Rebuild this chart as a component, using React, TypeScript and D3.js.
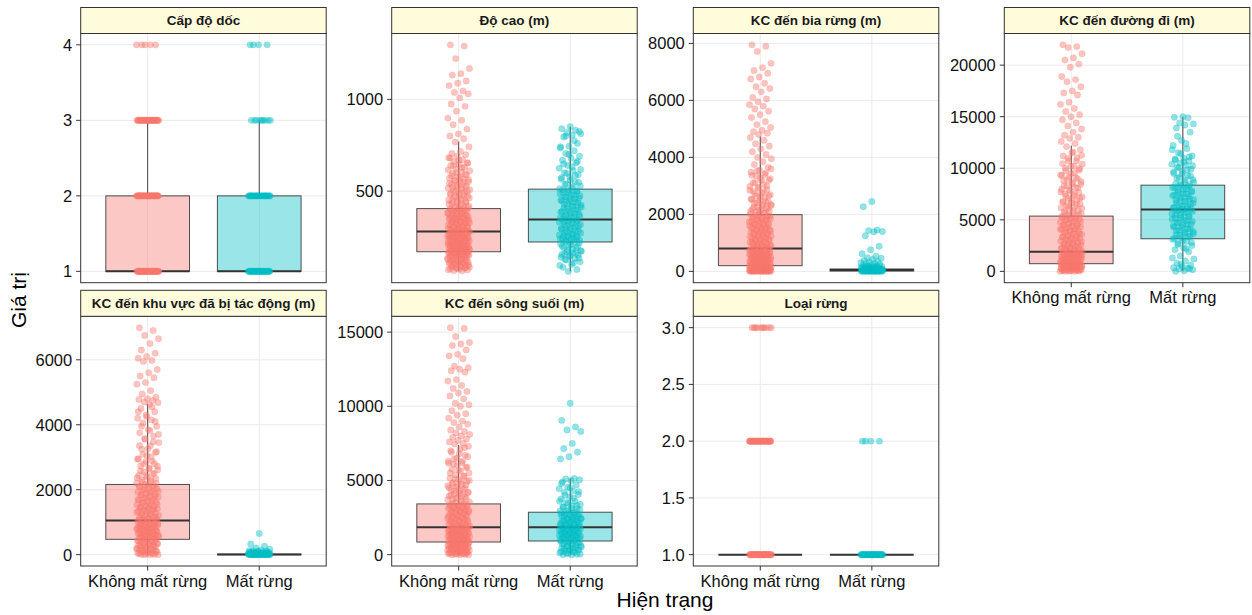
import React from 'react';
import * as d3 from 'd3';

// ---------------- DATA ----------------
const categories = ['Không mất rừng', 'Mất rừng'];
const groupColors = ['#F8766D', '#00BFC4'];

const panelTitles = [
  'Cấp độ dốc',
  'Độ cao (m)',
  'KC đến bia rừng (m)',
  'KC đến đường đi (m)',
  'KC đến khu vực đã bị tác động (m)',
  'KC đến sông suối (m)',
  'Loại rừng',
];

const slopeTicks = [1, 2, 3, 4];
const elevTicks = [500, 1000];
const markerTicks = [0, 2000, 4000, 6000, 8000];
const roadTicks = [0, 5000, 10000, 15000, 20000];
const disturbTicks = [0, 2000, 4000, 6000];
const streamTicks = [0, 5000, 10000, 15000];
const forestTicks = [1.0, 1.5, 2.0, 2.5, 3.0];
const forestTickLabels = ['1.0', '1.5', '2.0', '2.5', '3.0'];

// Discrete variables: [level, number of points]
const slopeLevelsKhong: [number, number][] = [[1, 45], [2, 45], [3, 35], [4, 5]];
const slopeLevelsMat: [number, number][] = [[1, 35], [2, 30], [3, 9], [4, 4]];
const forestLevelsKhong: [number, number][] = [[1, 45], [2, 40], [3, 10]];
const forestLevelsMat: [number, number][] = [[1, 40], [2, 4]];

// Continuous variables: point values
const elevKhong = [
  1297, 1290, 1222, 1168, 1140, 1132, 1100, 1088, 1075, 1046, 1038, 1030, 1008, 975, 962, 935, 898, 886, 862, 838, 812, 800, 785,
  768, 742, 716, 705, 698, 690, 682, 671, 660, 652, 645, 638, 630, 622, 611, 604, 596, 588, 580, 571, 566, 560, 552, 545, 538, 531,
  523, 516, 510, 504, 497, 489, 482, 476, 470, 463, 455, 448, 441, 436, 429, 422, 415, 409,
  402, 398, 393, 387, 381, 376, 372, 366, 361, 355, 350, 344, 340, 335, 331, 326, 320, 317, 311, 306, 302, 297, 293, 288, 284,
  279, 275, 271, 266, 262, 258, 253, 249, 244, 240, 236, 231, 227, 222, 218, 214, 209, 205, 201, 196, 192, 188, 184, 180, 176, 172,
  168, 164, 160, 156, 152, 147, 143, 139, 135, 130, 126, 121, 117, 112, 108, 103, 98, 93, 88, 83, 78, 72, 66,
];
const elevKhongCore = [
  67, 71, 74, 77, 80, 84, 86, 90, 94, 97, 100, 104, 107, 110, 113, 116, 119, 122, 125, 128, 131, 134, 137, 140, 144, 146, 149,
  151, 154, 157, 159, 161, 163, 165, 167, 169, 171, 173, 174, 177, 179, 182, 183, 186, 189, 191, 194, 195, 198, 200, 203, 204,
  207, 210, 212, 213, 216, 219, 221, 224, 225, 228, 230, 233, 234, 237, 239, 242, 243, 246, 248, 251, 252, 255, 257, 260, 261,
  264, 267, 269, 272, 273, 277, 281, 285, 289, 292, 296, 300, 304, 308, 312, 316, 321, 324, 328, 333, 337, 341, 346, 348, 352,
  357, 360, 364, 368, 373, 377, 380, 384, 390, 394, 399, 403, 407, 412, 418, 425, 433, 440, 447, 452, 459, 466, 473, 480, 487,
  494, 501, 507, 514, 520, 527, 535, 542, 549, 556, 563, 575, 584, 593, 601, 615, 627, 640, 655, 668, 680,
];
const elevMat = [
  851, 840, 832, 820, 812, 805, 795, 760, 745, 735, 720, 705, 690, 680, 668, 655, 640, 625, 612, 600, 590, 578, 565, 552, 540, 528, 518,
  508, 500, 494, 486, 478, 470, 462, 455, 448, 440, 432, 424, 416, 408, 400, 392, 385, 378, 370, 363, 356, 350,
  342, 336, 330, 322, 315, 308, 300, 293, 286, 279, 272, 265, 258, 252, 246, 240, 234, 228,
  218, 210, 200, 190, 180, 172, 165, 158, 152, 146, 140, 132, 125, 115, 100, 85, 73, 63,
];
const elevMatCore = [
  95, 110, 128, 136, 148, 155, 162, 170, 176, 184, 192, 198, 205, 214, 221, 226, 232, 238, 243, 249, 255, 261, 268, 275, 283,
  290, 297, 304, 311, 318, 326, 333, 339, 345, 353, 359, 366, 374, 381, 389, 396, 404, 412, 420, 428, 436, 445, 452, 460, 467,
  475, 483, 491, 498, 505, 514, 525, 536, 548, 560, 573, 585, 597, 618, 633, 648, 663, 700, 742, 775, 800, 825,
];
const markerKhong = [
  7950, 7900, 7720, 7300, 7150, 7050, 6950, 6820, 6750, 6600, 6480, 6420, 6300, 6100, 6050, 5950, 5850, 5800, 5700, 5620, 5500,
  5400, 5250, 5150, 5050, 4950, 4900, 4850, 4800,
  4700, 4600, 4480, 4400, 4300, 4200, 4100, 4000, 3950, 3850, 3750, 3650, 3550, 3480, 3400, 3350, 3250, 3200, 3100, 3000, 2950,
  2850, 2800, 2720, 2650, 2600, 2520, 2450, 2400, 2350, 2300, 2250, 2200, 2150, 2100, 2050,
  1980, 1940, 1900, 1860, 1820, 1780, 1740, 1700, 1660, 1620, 1580, 1540, 1500, 1460, 1420, 1380, 1340, 1300, 1260, 1220, 1180,
  1140, 1100, 1060, 1020, 980, 940, 900, 860, 830,
  790, 770, 750, 720, 700, 680, 660, 640, 620, 600, 580, 560, 540, 520, 500, 480, 460, 440, 420, 400, 380, 360, 340, 320, 300,
  280, 260, 240, 220, 205,
  195, 180, 170, 160, 150, 140, 130, 120, 110, 100, 90, 80, 70, 60, 50, 40, 30, 25, 20, 15, 10, 8, 5, 3, 0, 0, 0, 0, 0, 0,
];
const markerKhongCore = [
  0, 0, 0, 5, 10, 12, 18, 22, 28, 35, 42, 48, 55, 62, 70, 78, 85, 92, 100, 108, 115, 125, 135, 145, 155, 165, 175, 185, 198,
  210, 225, 238, 252, 268, 283, 297, 312, 328, 345, 362, 377, 393, 410, 428, 445, 463, 478, 495, 512, 530, 548, 565, 583, 602,
  620, 638, 657, 676, 695, 712, 733, 752, 775, 795, 815, 838, 860, 882, 905, 928, 950, 975, 1000, 1025, 1050, 1078, 1105, 1130,
  1158, 1185, 1212, 1240, 1268, 1295, 1322, 1350, 1377, 1405, 1432, 1460, 1488, 1515, 1545, 1572, 1600, 1630, 1660, 1690, 1720,
  1752, 1785, 1815, 1848, 1880, 1912, 1945, 1978, 2010, 2045, 2080, 2115, 2150, 2190, 2230, 2270, 2310, 2355, 2400, 2445, 2490,
  2540, 2590, 2640, 2690, 2745, 2800, 2860, 2920, 2980, 3050, 3120, 3200, 3280, 3370, 3450, 3520, 3600,
];
const markerMat = [
  2450, 2270, 1450, 1430, 1400, 1390, 1250, 880, 760, 620, 530, 480, 460, 420, 380, 350, 320, 300, 280, 260, 240, 220,
  200, 190, 180, 170, 160, 150, 140, 130, 120, 110, 100, 95, 90, 85, 80, 75, 70, 65, 60, 55, 50, 45, 40, 35, 30, 25, 20, 15, 10,
  5, 0, 0, 0, 0, 0,
];
const markerMatCore = [
  0, 0, 0, 0, 2, 4, 7, 9, 12, 14, 17, 19, 22, 27, 32, 37, 42, 47, 52, 57, 62, 68, 73, 78, 88, 98, 108, 118, 135, 150, 175,
];
const roadKhong = [
  21970, 21800, 21700, 21100, 20700, 20500, 20100, 19800, 18900, 18600, 18400, 17900, 17500, 17300, 17100, 16400, 16200, 15800,
  15500, 15200, 15000, 14700, 14400, 14100, 13800, 13500, 13200, 13000, 12900, 12600, 12400,
  12100, 11800, 11500, 11200, 11000, 10700, 10400, 10200, 10000, 9800, 9500, 9300, 9100, 8900, 8700, 8500, 8300, 8100, 7900,
  7700, 7500, 7300, 7100, 6900, 6700, 6500, 6300, 6100, 5900, 5700, 5500, 5400,
  5300, 5150, 5000, 4850, 4700, 4550, 4400, 4250, 4100, 3950, 3800, 3650, 3500, 3350, 3200, 3050, 2900, 2750, 2600, 2450, 2300,
  2200, 2100, 2000,
  1880, 1830, 1780, 1720, 1660, 1600, 1540, 1480, 1420, 1360, 1300, 1240, 1180, 1120, 1060, 1000, 940, 880, 820, 770,
  730, 690, 650, 610, 570, 530, 490, 450, 410, 370, 330, 290, 250, 210, 170, 130, 90, 50, 20, 0,
];
const roadKhongCore = [
  0, 10, 30, 60, 80, 110, 140, 160, 190, 220, 240, 270, 300, 320, 350, 380, 400, 430, 460, 480, 510, 540, 560, 590, 620, 640,
  670, 700, 720, 750, 790, 840, 890, 930, 970, 1020, 1070, 1110, 1150, 1200, 1260, 1310, 1350, 1400, 1450, 1500, 1560, 1610,
  1650, 1700, 1750, 1800, 1850, 1900, 1950, 2030, 2110, 2180, 2250, 2330, 2400, 2480, 2560, 2630, 2700, 2780, 2860, 2940, 3010,
  3100, 3180, 3260, 3340, 3420, 3510, 3600, 3680, 3770, 3860, 3940, 4030, 4120, 4210, 4300, 4390, 4480, 4580, 4670, 4760, 4860,
  4950, 5050, 5150, 5250, 5360, 5460, 5570, 5680, 5800, 5920, 6040, 6160, 6280, 6400, 6530, 6660, 6790, 6930, 7070, 7210, 7350,
  7500, 7650, 7800, 7960, 8120, 8280, 8450, 8620, 8800, 8980, 9160, 9350, 9550, 9760, 9980, 10200, 10450, 10700, 10960, 11250,
  11550,
];
const roadMat = [
  15000, 14950, 14900, 14400, 14300, 14200, 13900, 13500, 12700, 12200, 11900, 11500, 11200, 11000, 10900, 10700, 10500, 10400,
  10300, 10100, 9900, 9700, 9500, 9300, 9100, 8900, 8700, 8500, 8400,
  8300, 8150, 8000, 7850, 7700, 7550, 7400, 7250, 7100, 6950, 6800, 6650, 6500, 6350, 6200, 6100,
  5950, 5800, 5650, 5500, 5350, 5200, 5050, 4900, 4750, 4600, 4450, 4300, 4150, 4000, 3850, 3700, 3550, 3400, 3250,
  3100, 2900, 2700, 2500, 2300, 2100, 1900, 1500, 1200, 1000, 800, 600, 450, 350, 300, 250, 150, 50, 0,
];
const roadMatCore = [
  250, 700, 1300, 2200, 2600, 2800, 3000, 3200, 3350, 3500, 3650, 3800, 3950, 4100, 4250, 4400, 4550, 4700, 4850, 5000, 5150,
  5300, 5450, 5600, 5750, 5850, 6000, 6050, 6150, 6300, 6450, 6600, 6750, 6900, 7050, 7200, 7350, 7500, 7650, 7800, 7950, 8100,
  8250, 8450, 8650, 8850, 9050, 9250, 9450, 9650, 9850, 10050, 10250, 10600, 10800, 11100, 11400, 11800, 12400, 13100,
];
const disturbKhong = [
  6990, 6900, 6750, 6650, 6500, 6300, 6200, 6100, 6050, 5980, 5950, 5700, 5600, 5500, 5450, 5300, 5250, 5050, 4950, 4850, 4800,
  4780, 4750, 4700, 4680,
  4620, 4500, 4400, 4300, 4200, 4150, 4050, 3950, 3850, 3750, 3650, 3550, 3450, 3350, 3250, 3150, 3050, 2950, 2880, 2800, 2720,
  2650, 2580, 2500, 2430, 2370, 2300, 2240, 2190,
  2140, 2100, 2050, 2000, 1950, 1900, 1850, 1800, 1750, 1700, 1650, 1600, 1550, 1500, 1450, 1400, 1350, 1300, 1250, 1200, 1150,
  1100, 1070,
  1030, 1000, 970, 940, 910, 880, 850, 820, 790, 760, 730, 700, 670, 640, 610, 580, 550, 520, 490,
  460, 430, 400, 370, 340, 310, 280, 250, 220, 190, 160, 130, 100, 70, 40, 20, 0,
];
const disturbKhongCore = [
  0, 0, 8, 15, 30, 45, 60, 80, 95, 115, 135, 150, 170, 190, 205, 225, 245, 262, 282, 300, 320, 338, 356, 375, 392, 410, 428,
  446, 465, 482, 500, 515, 532, 548, 565, 582, 598, 615, 632, 650, 665, 682, 698, 715, 732, 748, 765, 782, 798, 815, 832, 848,
  865, 882, 898, 915, 932, 948, 965, 982, 1010, 1035, 1060, 1085, 1110, 1135, 1160, 1185, 1210, 1235, 1260, 1285, 1310, 1335,
  1360, 1385, 1410, 1435, 1460, 1485, 1510, 1535, 1560, 1590, 1620, 1650, 1680, 1710, 1740, 1770, 1800, 1830, 1860, 1890, 1920,
  1955, 1990, 2025, 2060, 2095, 2130, 2170, 2210, 2250, 2290, 2340, 2390, 2440, 2490, 2550, 2610, 2670, 2730, 2800, 2870, 2940,
  3010, 3090, 3170, 3260, 3360, 3470, 3580, 3700, 3820, 3950, 4100, 4250, 4400, 4550,
];
const disturbMat = [
  650, 330, 260, 210, 170, 140, 120, 100, 90, 80, 70, 60, 55, 50, 45, 40, 35, 30, 25, 20, 18, 15, 12, 10, 8, 5, 3,
  0, 0, 0, 0, 0, 0, 0, 0,
];
const disturbMatCore = [
  0, 0, 0, 0, 0, 2, 4, 6, 8, 10, 12, 14, 16, 18, 20, 22, 25, 28, 32, 36, 40, 45, 50, 55, 62, 70, 78, 88, 105, 125,
];
const streamKhong = [
  15300, 15250, 14700, 14300, 14200, 14100, 13800, 13500, 13400, 13200, 12700, 12600, 12500, 12400, 12300, 11800, 11700, 11400,
  11200, 11000, 10900, 10700, 10500, 10200, 10100, 10000, 9700, 9500, 9400, 9200, 9000, 8900, 8800, 8600, 8400, 8300, 8200,
  8100, 8000, 7900, 7800, 7700, 7600, 7500, 7450,
  7300, 7100, 6900, 6700, 6500, 6300, 6200, 6100, 5900, 5700, 5500, 5300, 5100, 5000, 4900, 4800, 4700, 4600, 4500, 4400, 4300,
  4200, 4100, 4000, 3900, 3800, 3700, 3600, 3500,
  3380, 3300, 3220, 3140, 3060, 2980, 2900, 2820, 2740, 2660, 2580, 2500, 2420, 2340, 2260, 2180, 2100, 2020, 1940, 1880,
  1800, 1750, 1700, 1650, 1600, 1550, 1500, 1450, 1400, 1350, 1300, 1250, 1200, 1150, 1100, 1050, 1000, 950, 900,
  820, 780, 740, 700, 660, 620, 580, 540, 500, 460, 420, 380, 340, 300, 260, 220, 180, 140, 100, 60, 20, 0,
];
const streamKhongCore = [
  0, 0, 15, 40, 70, 95, 120, 150, 175, 200, 230, 255, 280, 310, 335, 360, 390, 415, 440, 470, 495, 520, 550, 575, 600, 630,
  655, 680, 710, 735, 760, 790, 815, 840, 870, 895, 920, 950, 975, 1000, 1030, 1060, 1090, 1120, 1150, 1180, 1210, 1240, 1270,
  1300, 1330, 1360, 1390, 1420, 1450, 1480, 1510, 1540, 1570, 1600, 1630, 1660, 1690, 1720, 1750, 1780, 1810, 1840, 1870, 1910,
  1960, 2010, 2060, 2110, 2160, 2210, 2260, 2310, 2360, 2410, 2460, 2510, 2560, 2610, 2660, 2710, 2760, 2810, 2860, 2910, 2960,
  3010, 3060, 3110, 3160, 3210, 3260, 3310, 3360, 3410, 3480, 3560, 3640, 3720, 3800, 3880, 3960, 4040, 4120, 4200, 4290, 4380,
  4470, 4560, 4650, 4750, 4850, 4950, 5050, 5160, 5270, 5380, 5500, 5620, 5750, 5880, 6020, 6160, 6300, 6450, 6600, 6800, 7000,
  7200,
];
const streamMat = [
  10200, 9050, 8600, 8400, 8300, 7500, 7150, 6900, 6600, 6450,
  5130, 5100, 5050, 5000, 4900, 4700, 4550, 4450, 4300, 4200, 4050, 3900, 3750, 3600, 3500, 3400, 3300, 3200, 3100, 3000, 2950,
  2820, 2760, 2700, 2640, 2580, 2520, 2460, 2400, 2340, 2280, 2220, 2160, 2100, 2040, 1980, 1920, 1870,
  1800, 1750, 1700, 1650, 1600, 1550, 1500, 1450, 1400, 1350, 1300, 1250, 1200, 1150, 1100, 1050, 1000, 950,
  880, 820, 760, 700, 640, 580, 520, 460, 400, 340, 280, 220, 160, 100, 40, 0,
];
const streamMatCore = [
  0, 30, 70, 130, 190, 250, 310, 370, 430, 490, 550, 610, 670, 730, 790, 850, 910, 970, 1020, 1080, 1130, 1180, 1230, 1280,
  1330, 1380, 1430, 1480, 1530, 1580, 1630, 1680, 1730, 1780, 1830, 1880, 1930, 1980, 2030, 2090, 2150, 2210, 2270, 2330, 2390,
  2450, 2510, 2570, 2630, 2700, 2780, 2860, 2940, 3020, 3120, 3220, 3320, 3450, 3600, 3800, 4000, 4250, 4500, 4800,
];

// Box statistics [Không mất rừng, Mất rừng]: lower whisker, Q1, median, Q3, upper whisker
type Box = { lo: number; q1: number; med: number; q3: number; hi: number };
const slopeBox: Box[] = [
  { lo: 1, q1: 1, med: 1, q3: 2, hi: 3 },
  { lo: 1, q1: 1, med: 1, q3: 2, hi: 3 },
];
const elevBox: Box[] = [
  { lo: 65, q1: 170, med: 280, q3: 405, hi: 770 },
  { lo: 63, q1: 223, med: 346, q3: 511, hi: 851 },
];
const markerBox: Box[] = [
  { lo: 0, q1: 200, med: 800, q3: 1990, hi: 4740 },
  { lo: 0, q1: 10, med: 45, q3: 85, hi: 200 },
];
const roadBox: Box[] = [
  { lo: 0, q1: 745, med: 1906, q3: 5360, hi: 12190 },
  { lo: 0, q1: 3164, med: 6000, q3: 8360, hi: 15000 },
];
const disturbBox: Box[] = [
  { lo: 0, q1: 472, med: 1050, q3: 2161, hi: 4640 },
  { lo: 0, q1: 0, med: 5, q3: 15, hi: 35 },
];
const streamBox: Box[] = [
  { lo: 0, q1: 851, med: 1845, q3: 3420, hi: 7385 },
  { lo: 0, q1: 920, med: 1845, q3: 2860, hi: 5130 },
];
const forestBox: Box[] = [
  { lo: 1, q1: 1, med: 1, q3: 1, hi: 1 },
  { lo: 1, q1: 1, med: 1, q3: 1, hi: 1 },
];

// ---------------- BUILD ----------------
const expand = (levels: [number, number][]) => {
  const out: number[] = [];
  levels.forEach(([v, n]) => {
    for (let i = 0; i < n; i++) out.push(v);
  });
  return out;
};

type Panel = {
  title: string;
  points: number[][];
  boxes: Box[];
  ticks: number[];
  tickLabels?: string[];
};

const panels: Panel[] = [
  { title: panelTitles[0], points: [expand(slopeLevelsKhong), expand(slopeLevelsMat)], boxes: slopeBox, ticks: slopeTicks },
  { title: panelTitles[1], points: [[...elevKhong, ...elevKhongCore], [...elevMat, ...elevMatCore]], boxes: elevBox, ticks: elevTicks },
  {
    title: panelTitles[2],
    points: [[...markerKhong, ...markerKhongCore], [...markerMat, ...markerMatCore]],
    boxes: markerBox,
    ticks: markerTicks,
  },
  { title: panelTitles[3], points: [[...roadKhong, ...roadKhongCore], [...roadMat, ...roadMatCore]], boxes: roadBox, ticks: roadTicks },
  {
    title: panelTitles[4],
    points: [[...disturbKhong, ...disturbKhongCore], [...disturbMat, ...disturbMatCore]],
    boxes: disturbBox,
    ticks: disturbTicks,
  },
  {
    title: panelTitles[5],
    points: [[...streamKhong, ...streamKhongCore], [...streamMat, ...streamMatCore]],
    boxes: streamBox,
    ticks: streamTicks,
  },
  {
    title: panelTitles[6],
    points: [expand(forestLevelsKhong), expand(forestLevelsMat)],
    boxes: forestBox,
    ticks: forestTicks,
    tickLabels: forestTickLabels,
  },
];

// ---------------- LAYOUT ----------------
const W = 1252;
const H = 615;
const colLeft = [80.7, 391.7, 693.3, 1004.3];
const panelW = 245.5;
const stripTop = [7.5, 290.3];
const stripH = 26;
const panelBottom = [282.7, 566];
const FONT = '"Liberation Sans", Arial, Helvetica, sans-serif';
const GRID = '#EBEBEB';
const DARK = '#333333';

function PanelView({ p, idx }: { p: Panel; idx: number }) {
  const row = idx < 4 ? 0 : 1;
  const col = idx < 4 ? idx : idx - 4;
  const left = colLeft[col];
  const right = left + panelW;
  const top = stripTop[row] + stripH;
  const bottom = panelBottom[row];
  const showX = row === 1 || col === 3;

  const allVals = [...p.points[0], ...p.points[1], ...p.boxes.flatMap((b) => [b.lo, b.hi])];
  const [mn, mx] = d3.extent(allVals) as [number, number];
  const pad = (mx - mn) * 0.05;
  const y = d3.scaleLinear().domain([mn - pad, mx + pad]).range([bottom, top]);
  const x = d3.scalePoint<string>().domain(categories).range([left, right]).padding(0.6);
  const step = x.step();
  const boxW = step * 0.75;
  const jit = step * 0.1;

  return (
    <g>
      <rect x={left} y={top} width={panelW} height={bottom - top} fill="#fff" />
      {p.ticks.map((t) => (
        <line key={'g' + t} x1={left} x2={right} y1={y(t)} y2={y(t)} stroke={GRID} strokeWidth={1} />
      ))}
      {categories.map((c) => (
        <line key={'v' + c} x1={x(c)} x2={x(c)} y1={top} y2={bottom} stroke={GRID} strokeWidth={1} />
      ))}
      {/* boxes */}
      {p.boxes.map((b, gi) => {
        const cx = x(categories[gi])!;
        return (
          <g key={'b' + gi}>
            <line x1={cx} x2={cx} y1={y(b.q3)} y2={y(b.hi)} stroke={DARK} strokeWidth={0.9} />
            <line x1={cx} x2={cx} y1={y(b.q1)} y2={y(b.lo)} stroke={DARK} strokeWidth={0.9} />
            <rect
              x={cx - boxW / 2}
              y={y(b.q3)}
              width={boxW}
              height={Math.max(0, y(b.q1) - y(b.q3))}
              fill={groupColors[gi]}
              fillOpacity={0.4}
              stroke={DARK}
              strokeOpacity={0.85}
              strokeWidth={1}
            />
            <line x1={cx - boxW / 2} x2={cx + boxW / 2} y1={y(b.med)} y2={y(b.med)} stroke={DARK} strokeWidth={2} />
          </g>
        );
      })}
      {/* jittered points */}
      {p.points.map((vals, gi) => {
        const cx = x(categories[gi])!;
        return (
          <g key={'p' + gi}>
            {vals.map((v, i) => {
              const f = (i * 0.6180339887 + 0.37 * gi + 0.13) % 1;
              return (
                <circle
                  key={i}
                  cx={cx + (f * 2 - 1) * jit}
                  cy={y(v)}
                  r={3.2}
                  fill={groupColors[gi]}
                  fillOpacity={0.43}
                  stroke={groupColors[gi]}
                  strokeOpacity={0.25}
                  strokeWidth={0.6}
                />
              );
            })}
          </g>
        );
      })}
      <rect x={left} y={top} width={panelW} height={bottom - top} fill="none" stroke={DARK} strokeWidth={1} />
      {/* strip */}
      <rect x={left} y={stripTop[row]} width={panelW} height={stripH} fill="#FFFCDC" stroke={DARK} strokeWidth={1} />
      <text
        x={(left + right) / 2}
        y={stripTop[row] + stripH / 2}
        textAnchor="middle"
        dominantBaseline="central"
        fontFamily={FONT}
        fontWeight="bold"
        fontSize={13.5}
        fill="#1a1a1a"
      >
        {p.title}
      </text>
      {/* y axis */}
      {p.ticks.map((t, ti) => (
        <g key={'yt' + t}>
          <line x1={left - 4.5} x2={left} y1={y(t)} y2={y(t)} stroke={DARK} strokeWidth={1} />
          <text
            x={left - 8.5}
            y={y(t)}
            textAnchor="end"
            dominantBaseline="central"
            fontFamily={FONT}
            fontSize={16.5}
            fill="#111"
          >
            {p.tickLabels ? p.tickLabels[ti] : String(t)}
          </text>
        </g>
      ))}
      {showX &&
        categories.map((c) => (
          <g key={'xt' + c}>
            <line x1={x(c)} x2={x(c)} y1={bottom} y2={bottom + 4.5} stroke={DARK} strokeWidth={1} />
            <text x={x(c)} y={bottom + 20.5} textAnchor="middle" fontFamily={FONT} fontSize={16.5} fill="#111">
              {c}
            </text>
          </g>
        ))}
    </g>
  );
}

export default function App() {
  return (
    <svg
      width={W}
      height={H}
      viewBox={`0 0 ${W} ${H}`}
      style={{ position: 'absolute', left: 0, top: 0, background: '#fff' }}
    >
      <rect x={0} y={0} width={W} height={H} fill="#fff" />
      {panels.map((p, i) => (
        <PanelView key={i} p={p} idx={i} />
      ))}
      <text x={665} y={607} textAnchor="middle" fontFamily={FONT} fontSize={21} fill="#000">
        Hiện trạng
      </text>
      <text
        transform="translate(26,300) rotate(-90)"
        textAnchor="middle"
        fontFamily={FONT}
        fontSize={21}
        fill="#000"
      >
        Giá trị
      </text>
    </svg>
  );
}
